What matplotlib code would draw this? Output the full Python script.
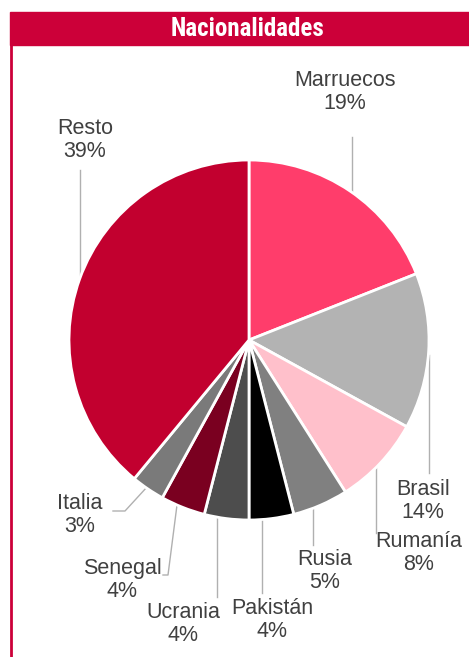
import matplotlib.pyplot as plt
from matplotlib import font_manager

# data
countries = ['Marruecos', 'Brasil', 'Rumanía', 'Rusia', 'Pakistán',
             'Ucrania', 'Senegal', 'Italia', 'Resto']
shares = [19, 14, 8, 5, 4, 4, 4, 3, 39]
colors = ['#ff3d6b', '#b3b3b3', '#ffc0cb', '#808080', '#000000',
          '#4d4d4d', '#7a0020', '#7a7a7a', '#c2002f']

W, H = 469, 657
RED = '#cc0039'
TXT = '#404040'
LINE = '#b0b0b0'

# label centres (pixels, top-left origin) and leader lines
label_pos = [(345, 92), (423, 501), (419, 553), (325, 571), (272, 620),
             (183, 624), (122, 580), (80, 515), (85, 140)]
leaders = [
    [(352, 137), (352, 200)],
    [(429, 355), (429, 473)],
    [(376, 462), (376, 533)],
    [(313, 505), (313, 545)],
    [(262, 515), (262, 593)],
    [(217, 515), (217, 597)],
    [(177, 505), (168, 575), (163, 575)],
    [(147, 487), (125, 511), (113, 511)],
    [(80, 170), (80, 285)],
]

plt.rcParams['font.family'] = ['Liberation Sans', 'DejaVu Sans']

names = {f.name for f in font_manager.fontManager.ttflist}
title_font = 'DejaVu Sans'
for cand in ['Roboto Condensed', 'Open Sans Condensed', 'Noto Sans Condensed', 'Roboto']:
    if cand in names:
        title_font = cand
        break

fig = plt.figure(figsize=(W / 100, H / 100), dpi=100)
ax = fig.add_axes([0, 0, 1, 1])

def fy(y):
    return H - y

cx, cy, r = 249, 340, 180
ax.pie(shares, colors=colors, startangle=90, counterclock=False,
       center=(cx, fy(cy)), radius=r,
       wedgeprops=dict(edgecolor='white', linewidth=2, zorder=3))

for pts in leaders:
    ax.plot([p[0] for p in pts], [fy(p[1]) for p in pts],
            color=LINE, lw=1, zorder=1)

for name, val, (x, y) in zip(countries, shares, label_pos):
    ax.text(x, fy(y), f'{name}\n{val}%', ha='center', va='center',
            fontsize=15.5, color=TXT, linespacing=1.1, zorder=4)

# header bar and left border
ax.add_patch(plt.Rectangle((10, fy(45)), W - 10, 33, color=RED, zorder=5))
ax.plot([11, 11], [0, fy(45)], color=RED, lw=2, zorder=5)
ax.text(247, fy(29), 'Nacionalidades', ha='center', va='center',
        color='white', fontsize=18, fontweight='heavy',
        family=[title_font], zorder=6)

ax.set_xlim(0, W)
ax.set_ylim(0, H)
ax.set_aspect('auto')
ax.axis('off')

fig.savefig('out.png', dpi=100, facecolor='white')
